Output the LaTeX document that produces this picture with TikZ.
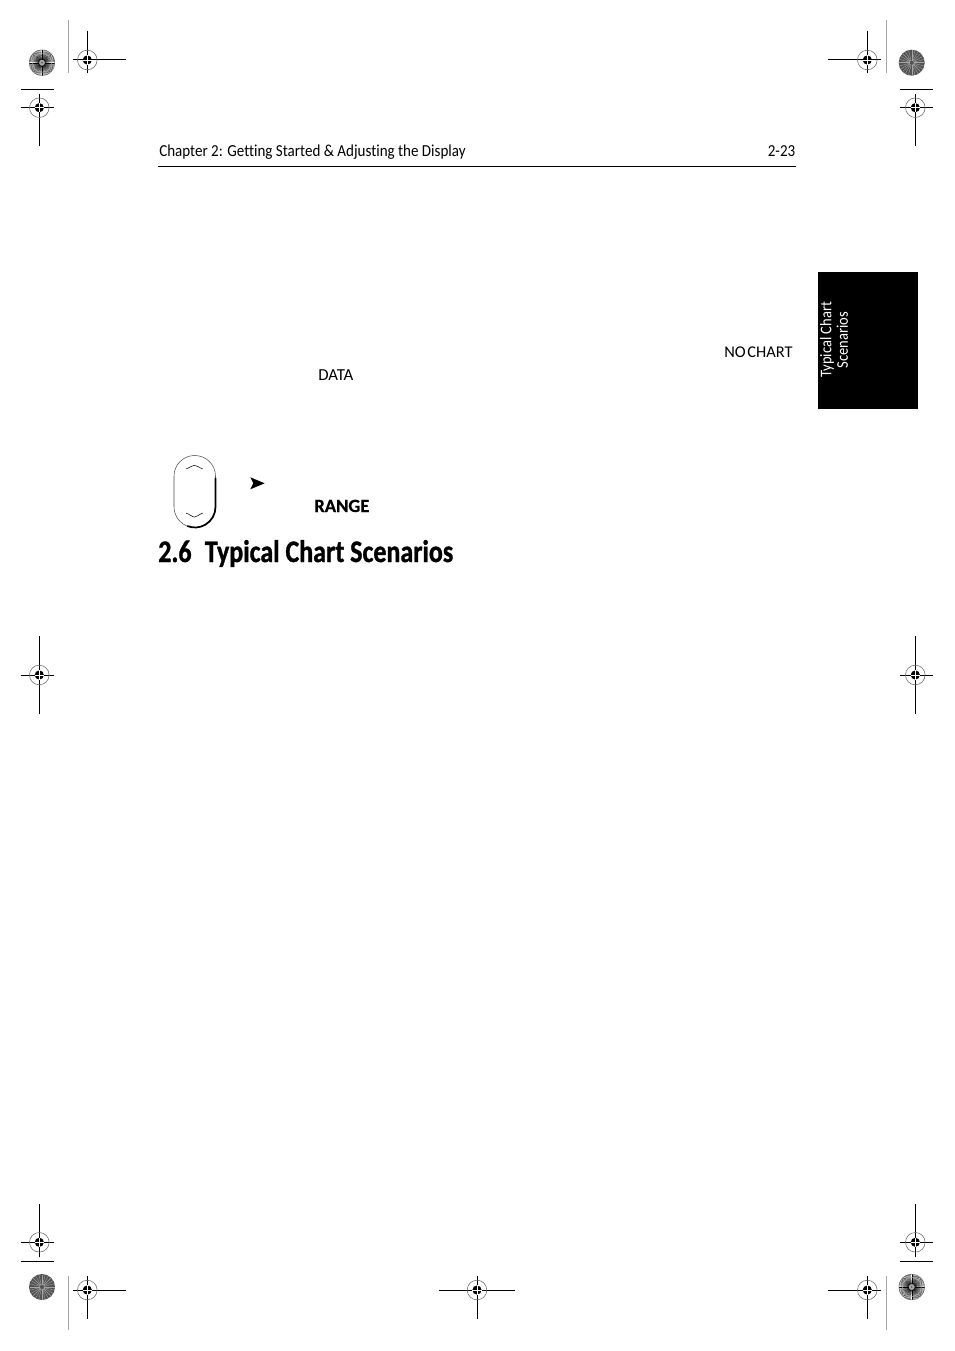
\documentclass[tikz,border=0pt]{standalone}
\usepackage{fontspec}
\setmainfont[FakeStretch=0.895,Ligatures=NoCommon]{Carlito}
\newfontfamily\capsfont[Ligatures=NoCommon]{Carlito}
\newfontfamily\headfont[FakeBold=1.0,FakeStretch=0.83,Ligatures=NoCommon]{Carlito Bold}
\newfontfamily\keyfont[FakeBold=0.5,Ligatures=NoCommon]{Carlito Bold}
\usetikzlibrary{positioning}
\usetikzlibrary{calc}

\tikzset{
    pagetext/.style={inner sep=0pt, anchor=base west, font=\fontsize{12.6}{14}\selectfont},
    cropline/.style={line width=0.75pt, black},
    foldline/.style={line width=0.75pt, black!35},
}

% target mark: x, y, left, right, top, bottom
\newcommand{\regmark}[6]{
    \draw[cropline] (#3,#2) -- (#4,#2);
    \draw[cropline] (#1,#5) -- (#1,#6);
    \draw[line width=0.4pt, black!60] (#1,#2) circle (9.8);
    \fill[black] (#1,#2) circle (4.6);
    \draw[white, line width=0.5pt] (#1-4.6,#2) -- (#1+4.6,#2);
    \draw[white, line width=0.5pt] (#1,#2-4.6) -- (#1,#2+4.6);
}
% light disc: x, y
\newcommand{\lightdisc}[2]{
    \fill[black!35] (#1,#2) circle (4);
    \foreach \ang in {1,...,72} {
        \draw[line width=0.22pt, black] (#1,#2) ++({5*\ang}:3) -- ++({5*\ang}:10);
    }
    \fill[black!70] (#1,#2) circle (0.9);
    \draw[line width=0.3pt, black!60] (#1,#2) circle (12.8);
    \draw[line width=0.3pt, black!25] (#1,#2) circle (9.5);
}
% dark disc: x, y
\newcommand{\darkdisc}[2]{
    \fill[black!68] (#1,#2) circle (13);
    \foreach \ang in {1,...,24} {
        \draw[line width=0.3pt, black!35] (#1,#2) ++({15*\ang}:2) -- ++({15*\ang}:10.5);
    }
}

\begin{document}
\begin{tikzpicture}[x=0.75pt, y=-0.75pt]
    \useasboundingbox[fill=white] (0,0) rectangle (954,1351);

    % corner and side marks
    \regmark{87.3}{60}{73}{126}{31}{73}
    \regmark{867.3}{60}{828}{881}{31}{73}
    \regmark{39.3}{107.7}{20.7}{53.7}{94}{146}
    \regmark{915.3}{107.7}{900}{933}{94}{146}
    \regmark{39.3}{675}{20.7}{53.7}{636}{714}
    \regmark{915.3}{675}{900}{933}{636}{714}
    \regmark{39.3}{1242.3}{20.7}{53.7}{1204}{1256.7}
    \regmark{915.3}{1242.3}{900}{933}{1204}{1256.7}
    \regmark{87.3}{1290}{73}{126}{1276}{1318.7}
    \regmark{477}{1290}{439}{515}{1276}{1318.7}
    \regmark{867.3}{1290}{828}{881}{1276}{1318.7}
    \draw[cropline] (20.7,89.3) -- (53.7,89.3);
    \draw[cropline] (900,89.3) -- (933,89.3);
    \draw[cropline] (20.7,1261.3) -- (53.7,1261.3);
    \draw[cropline] (900,1261.3) -- (933,1261.3);
    \draw[foldline] (68.3,20) -- (68.3,73);
    \draw[foldline] (886.3,20) -- (886.3,73);
    \draw[foldline] (68.3,1276) -- (68.3,1330);
    \draw[foldline] (886.3,1276) -- (886.3,1330);

    % colour bars
    \lightdisc{42}{62.7}
    \darkdisc{911.7}{62.7}
    \darkdisc{42}{1287}
    \lightdisc{911.7}{1287}

    % header
    \path
        node (chapter) at (159,156.5) [pagetext] {Chapter 2: Getting Started \& Adjusting the Display}
        node (pageno) at (767.5,156.5) [pagetext] {2-23};
    \draw[line width=0.75pt] (158,166.3) -- (796,166.3);

    % thumb tab
    \fill[black] (818,272) rectangle (918,409);
    \node (tab) at (834,340) [rotate=90, white, inner sep=0pt, align=center,
        font=\fontsize{12.2}{12.3}\selectfont] {Typical Chart\\Scenarios};

    % body words
    \path
        node (nochart) at (724,358) [pagetext, font=\fontsize{12.3}{14}\capsfont] {NO\hspace{1.2pt}CHART}
        node (data) at (318,380) [pagetext, font=\fontsize{12.6}{14}\capsfont] {DATA}
        node (range) at (314,512) [pagetext, font=\fontsize{14}{14}\keyfont] {RANGE}
        node (heading) at (158,562) [pagetext, font=\fontsize{23.5}{26}\headfont] {2.6\hspace{10pt}Typical Chart Scenarios};

    % range key
    \draw[line width=0.4pt, black!70, rounded corners=15.5pt] (174,455.5) rectangle (215.5,527.5);
    \draw[line width=1.3pt] (215.5,478) -- (215.5,507) arc (0:112:20.5);
    \draw[line width=0.4pt] (186,469) .. controls (190,467.5) and (192,465.5) .. (194.3,465.3)
        .. controls (197,465.5) and (199,467.5) .. (202.7,469);
    \draw[line width=0.4pt] (186,513) .. controls (190,514.5) and (192,516.8) .. (194.3,517.2)
        .. controls (197,516.8) and (199,514.5) .. (202.7,513);
    \fill[black] (250.3,477.3) -- (264.7,483.3) -- (250.3,489.3) -- (253.3,483.3) -- cycle;
\end{tikzpicture}
\end{document}
